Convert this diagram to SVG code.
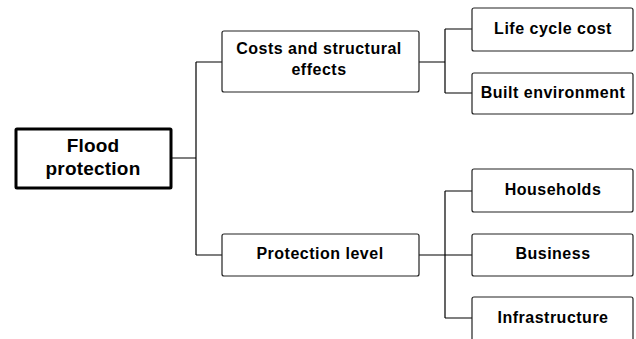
<svg xmlns="http://www.w3.org/2000/svg" width="636" height="339" viewBox="0 0 636 339">
<style>
.box{fill:#fff;stroke:#222;stroke-width:1.2}
.main{fill:#fff;stroke:#000;stroke-width:3}
.t{font-family:"Liberation Sans",Arial,sans-serif;font-weight:bold;font-size:16px;fill:#000;text-anchor:middle;letter-spacing:0.5px}
.tm{font-size:19px;letter-spacing:0.2px}
.c{fill:none;stroke:#000;stroke-width:1.2}
</style>
<rect width="636" height="339" fill="#fff"/>
<g id="connectors">
<path class="c" d="M171 158H196M196 62V255M196 62H222M196 255H222"/>
<path class="c" d="M419 62H445M445 29V93M445 29H472M445 93H472"/>
<path class="c" d="M419 255H472M445 191V318M445 191H472M445 318H472"/>
</g>
<g id="flood"><rect class="main" x="16" y="129" width="155" height="59" rx="1"/><text class="t tm" x="93" y="152">Flood</text><text class="t tm" x="93" y="175">protection</text></g>
<g id="costs"><rect class="box" x="222" y="31" width="197" height="61" rx="2"/><text class="t" x="319" y="54">Costs and structural</text><text class="t" x="319" y="75">effects</text></g>
<g id="protection"><rect class="box" x="222" y="234" width="197" height="42" rx="2"/><text class="t" x="320" y="259">Protection level</text></g>
<g id="lcc"><rect class="box" x="472" y="8" width="161" height="43" rx="2"/><text class="t" x="553" y="34">Life cycle cost</text></g>
<g id="built"><rect class="box" x="472" y="73" width="161" height="41" rx="2"/><text class="t" x="553" y="98">Built environment</text></g>
<g id="households"><rect class="box" x="472" y="169" width="161" height="43" rx="2"/><text class="t" x="553" y="195">Households</text></g>
<g id="business"><rect class="box" x="472" y="234" width="161" height="42" rx="2"/><text class="t" x="553" y="259">Business</text></g>
<g id="infra"><rect class="box" x="472" y="297" width="161" height="45" rx="2"/><text class="t" x="553" y="323">Infrastructure</text></g>
</svg>
